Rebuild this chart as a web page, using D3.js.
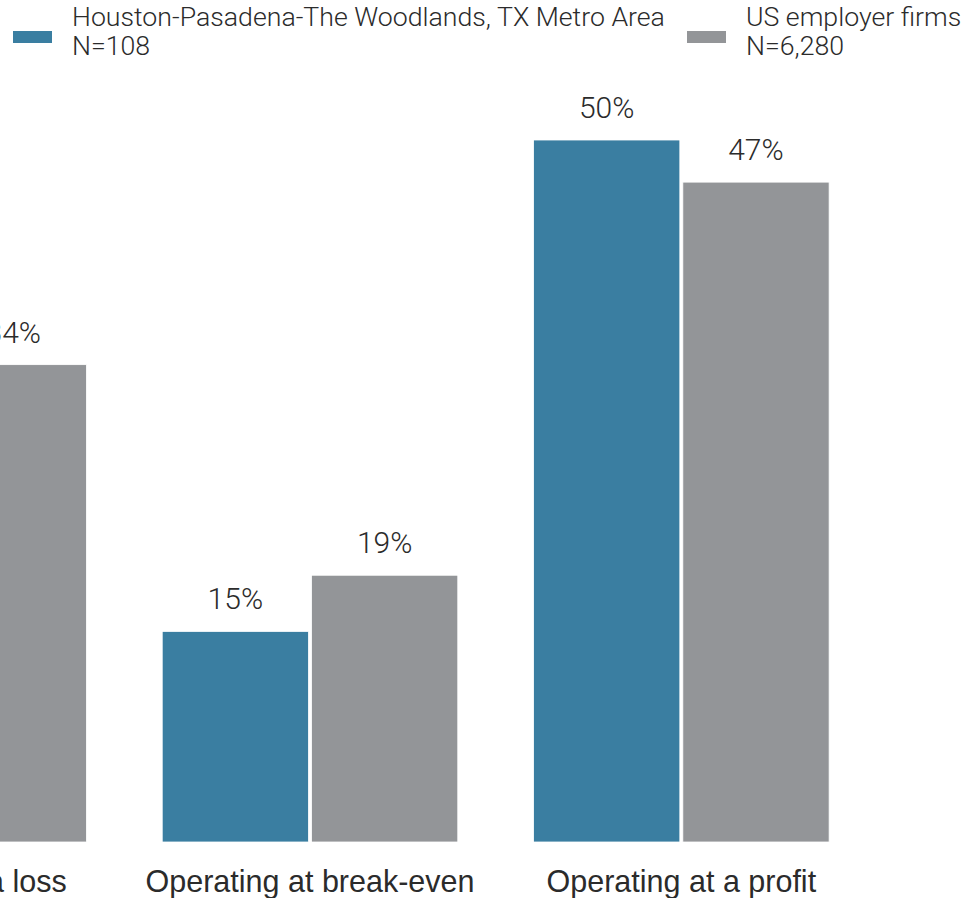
<!DOCTYPE html>
<html>
<head>
<meta charset="utf-8">
<script src="https://cdn.jsdelivr.net/npm/d3@7"></script>
<style>
    body { margin: 0; background: #fff; overflow: hidden; }
    text { font-family: Roboto, "Noto Sans", sans-serif; fill: #2b2b2b; }
</style>
</head>
<body>
<svg id="chart"></svg>
<script>
"use strict";

const categories = ['Operating at a loss', 'Operating at break-even', 'Operating at a profit'];
const series = ['Houston-Pasadena-The Woodlands, TX Metro Area', 'US employer firms'];
const series_n = ['N=108', 'N=6,280'];
const houston_values = [35, 15, 50];
const us_values = [34, 19, 47];
const colors = ['#3a7ea1', '#939598'];

const width = 971, height = 898;
const bar_bottom = 842;

const svg = d3.select('#chart')
    .attr('width', width)
    .attr('height', height);

// the first group sits partly left of the view, as in the reference
const x = d3.scaleBand()
    .domain(categories)
    .range([-247, 867])
    .paddingInner(0.204)
    .paddingOuter(0.102);

const xInner = d3.scaleBand()
    .domain(series)
    .range([0, x.bandwidth()])
    .paddingInner(0.02);

const y = d3.scaleLinear()
    .domain([0, 50])
    .range([bar_bottom, 140]);

const rows = categories.map((c, i) => ({
    category: c,
    values: [houston_values[i], us_values[i]]
}));

const groups = svg.append('g').selectAll('.group')
    .data(rows)
    .join('g')
    .attr('class', 'group')
    .attr('transform', d => `translate(${x(d.category)},0)`);

groups.selectAll('rect')
    .data(d => d.values.map((v, i) => ({series: series[i], value: v, i: i})))
    .join('rect')
    .attr('x', d => xInner(d.series))
    .attr('y', d => y(d.value))
    .attr('width', xInner.bandwidth())
    .attr('height', d => bar_bottom - y(d.value))
    .style('fill', d => colors[d.i])
    .style('stroke', '#fff')
    .style('stroke-width', 0.8);

groups.selectAll('.value')
    .data(d => d.values.map((v, i) => ({series: series[i], value: v})))
    .join('text')
    .attr('class', 'value')
    .attr('x', d => xInner(d.series) + xInner.bandwidth() / 2)
    .attr('y', d => y(d.value) - 22)
    .attr('text-anchor', 'middle')
    .style('font-size', '30px')
    .style('font-weight', 300)
    .text(d => d.value + '%');

const xAxis = d3.axisBottom(x).tickSize(0).tickPadding(0);
svg.append('g')
    .attr('class', 'x axis')
    .attr('transform', `translate(0,${bar_bottom})`)
    .call(xAxis)
    .call(g => g.select('.domain').remove())
    .call(g => g.selectAll('text')
        .attr('dy', null)
        .attr('y', 50)
        .style('font-size', '30.5px')
        .style('font-family', '"Liberation Sans", Arial, sans-serif')
        .style('fill', '#2b2b2b'));

// legend
const legend_x = [13, 687];
const legend = svg.append('g').selectAll('.legend')
    .data(series)
    .join('g')
    .attr('class', 'legend')
    .attr('transform', (d, i) => `translate(${legend_x[i]},0)`);

legend.append('rect')
    .attr('x', 0)
    .attr('y', 31)
    .attr('width', 39)
    .attr('height', 12)
    .style('fill', (d, i) => colors[i]);

legend.append('text')
    .attr('x', 59)
    .attr('y', 26)
    .style('font-size', '26.7px')
    .style('font-weight', 300)
    .text(d => d);

legend.append('text')
    .attr('x', 59)
    .attr('y', 55)
    .style('font-size', '26.7px')
    .style('font-weight', 300)
    .text((d, i) => series_n[i]);
</script>
</body>
</html>
